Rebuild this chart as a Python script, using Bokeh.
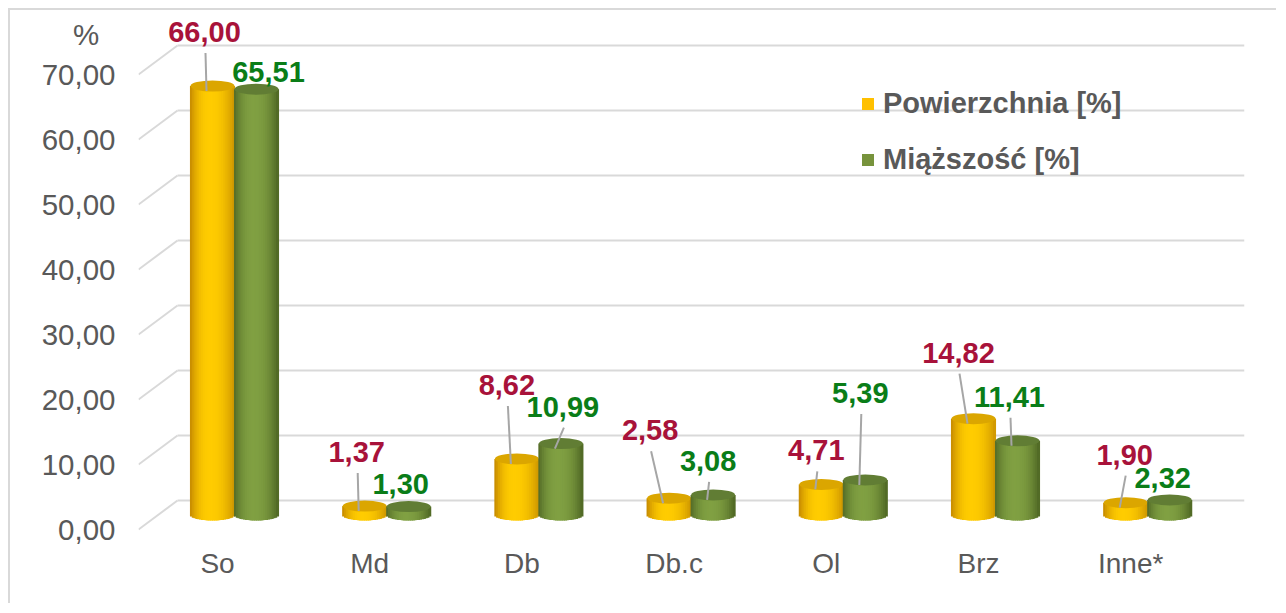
import numpy as np
from bokeh.plotting import figure
from bokeh.models import ColumnDataSource, FixedTicker, Legend, LegendItem
from bokeh.embed import file_html
from bokeh.resources import INLINE
from bokeh.core.properties import value

# ---------------- data ----------------
categories = ["So", "Md", "Db", "Db.c", "Ol", "Brz", "Inne*"]
powierzchnia = [66.00, 1.37, 8.62, 2.58, 4.71, 14.82, 1.90]
miazszosc = [65.51, 1.30, 10.99, 3.08, 5.39, 11.41, 2.32]
y_ticks = [0, 10, 20, 30, 40, 50, 60, 70]
series_names = ["Powierzchnia [%]", "Miąższość [%]"]
axis_unit = "%"

# ---------------- layout (label offsets in px, relative to cylinder top) ----------------
pow_label_dx = [-8, -8, -10, -19, -5, -15, -1]
pow_label_dy = [54, 54, 74, 68, 34, 66, 48]
pow_leader = [1, 1, 1, 1, 1, 1, 1]
mia_label_dx = [12, -8, 2, -5, -5, -8, -7]
mia_label_dy = [17, 23, 37, 34, 87, 44, 22]
mia_leader = [0, 0, 1, 1, 1, 1, 0]

FONT = "Liberation Sans"
GREY_TXT = "#595959"
GRID = "#d9d9d9"
RED_LBL = "#a8123a"
GREEN_LBL = "#0a7d18"

PX_X = 152.2   # px per category
PX_Y = 6.5     # px per percent
FRAME_W, FRAME_H = 1106, 533
x_start = -79 / PX_X
x_end = x_start + FRAME_W / PX_X
y_start = -16 / PX_Y
y_end = y_start + FRAME_H / PX_Y
UNIT_POS = (529 - 34) / PX_Y

WALL_DX = 39 / PX_X
WALL_DY = 29 / PX_Y
PAIR_DX = 17 / PX_X
BASE = 14.5 / PX_Y
HALF = 22 / PX_X
CW = 44 / PX_X
HB = 5.5 / PX_Y

p = figure(width=1268, height=595, output_backend="svg", toolbar_location=None,
           x_range=(x_start, x_end), y_range=(y_start, y_end),
           min_border_left=128, min_border_right=34, min_border_top=2, min_border_bottom=60)
p.margin = (8, 0, 0, 8)
p.styles = {"border-left": "2px solid #d9d9d9", "border-top": "2px solid #d9d9d9"}
p.outline_line_color = None
p.xgrid.visible = False
p.ygrid.visible = False
p.background_fill_color = "white"

# ---------------- 3D walls / gridlines ----------------
yt = np.array(y_ticks, dtype=float)
p.segment(x0=[x_start + WALL_DX] * len(yt), y0=yt + WALL_DY, x1=[x_end] * len(yt), y1=yt + WALL_DY,
          line_color=GRID, line_width=2)
p.segment(x0=[x_start] * len(yt), y0=yt, x1=[x_start + WALL_DX] * len(yt), y1=yt + WALL_DY,
          line_color=GRID, line_width=2)

# ---------------- cylinders ----------------
def hexc(c):
    return "#%02x%02x%02x" % tuple(int(round(max(0, min(255, v)))) for v in c)

def mix(a, b, t):
    return [a[i] + (b[i] - a[i]) * t for i in range(3)]

def shade(u, left, hi, right, u0=-0.1):
    if u < u0:
        d = (u0 - u) / (1 + u0)
        return hexc(mix(left, hi, 1 - d ** 2.2))
    d = (u - u0) / (1 - u0)
    return hexc(mix(right, hi, 1 - d ** 2.2))

styles = [
    dict(left=(196, 136, 0), hi=(255, 204, 0), right=(206, 150, 0), mid="#f2bc00", top="#dba600", legend="#ffc000"),
    dict(left=(82, 106, 38), hi=(128, 160, 66), right=(78, 102, 36), mid="#73913a", top="#617d34", legend="#77933c"),
]
series_vals = [powierzchnia, miazszosc]
series_side = [-1, 1]
N = 24
us = -1 + (2 * np.arange(N) + 1) / N

cx_all = []
top_all = []
for s, vals in enumerate(series_vals):
    st = styles[s]
    xs, bot, topv, cols = [], [], [], []
    cxs = [i + PAIR_DX + series_side[s] * HALF for i in range(len(vals))]
    tops = [BASE + v for v in vals]
    for cx, top in zip(cxs, tops):
        for u in us:
            xs.append(cx + u * CW / 2)
            bot.append(BASE - HB * np.sqrt(max(0.0, 1 - u * u)))
            topv.append(top)
            cols.append(shade(u, st["left"], st["hi"], st["right"]))
    # underlay (avoids seams between shading strips)
    p.vbar(x=cxs, bottom=[BASE] * len(cxs), top=tops, width=CW * 0.97, fill_color=st["mid"], line_color=None)
    p.ellipse(x=cxs, y=[BASE] * len(cxs), width=CW * 0.97, height=2 * HB * 0.95, fill_color=st["mid"], line_color=None)
    src = ColumnDataSource(dict(x=xs, bottom=bot, top=topv, color=cols))
    p.vbar(x="x", bottom="bottom", top="top", width=CW / N * 1.6, fill_color="color",
           line_color=None, source=src)
    p.ellipse(x=cxs, y=tops, width=CW, height=2 * HB, fill_color=st["top"], line_color=None)
    cx_all.append(cxs)
    top_all.append(tops)

# ---------------- data labels + leader lines ----------------
lbl_cfg = [(pow_label_dx, pow_label_dy, pow_leader, RED_LBL), (mia_label_dx, mia_label_dy, mia_leader, GREEN_LBL)]
for s, vals in enumerate(series_vals):
    dxs, dys, lead, col = lbl_cfg[s]
    n = len(vals)
    lx = [cx_all[s][i] + dxs[i] / PX_X for i in range(n)]
    ly = [top_all[s][i] + dys[i] / PX_Y for i in range(n)]
    sx0 = [lx[i] + 1 / PX_X for i in range(n) if lead[i]]
    sy0 = [ly[i] - 21 / PX_Y for i in range(n) if lead[i]]
    sx1 = [cx_all[s][i] - 6 / PX_X for i in range(n) if lead[i]]
    sy1 = [top_all[s][i] - 5 / PX_Y for i in range(n) if lead[i]]
    p.segment(x0=sx0, y0=sy0, x1=sx1, y1=sy1, line_color="#a6a6a6", line_width=2)
    texts = [f"{v:.2f}".replace(".", ",") for v in vals]
    p.text(x=lx, y=ly, text=texts, text_align="center", text_baseline="middle",
           text_font=value(FONT), text_font_size="29px", text_font_style="bold", text_color=col)

# ---------------- axes ----------------
p.yaxis.ticker = FixedTicker(ticks=y_ticks + [UNIT_POS])
overrides = {t: f"{t:.2f}".replace(".", ",") for t in y_ticks}
overrides[UNIT_POS] = axis_unit + "\u00a0\u00a0"
p.yaxis.major_label_overrides = overrides
p.xaxis.ticker = FixedTicker(ticks=list(range(len(categories))))
p.xaxis.major_label_overrides = {i: c for i, c in enumerate(categories)}
for ax in (p.xaxis, p.yaxis):
    ax.axis_line_color = None
    ax.major_tick_line_color = None
    ax.minor_tick_line_color = None
    ax.major_tick_out = 0
    ax.major_tick_in = 0
    ax.major_label_text_font = FONT
    ax.major_label_text_color = GREY_TXT
p.yaxis.major_label_text_font_size = "29.5px"
p.xaxis.major_label_text_font_size = "28px"
p.yaxis.major_label_standoff = 23
p.xaxis.major_label_standoff = 2

# ---------------- legend ----------------
items = []
for s in range(2):
    r = p.quad(left=[np.nan], right=[np.nan], bottom=[np.nan], top=[np.nan],
               fill_color=styles[s]["legend"], line_color=None)
    items.append(LegendItem(label=series_names[s], renderers=[r]))
legend = Legend(items=items, location=(722, 369), padding=0, margin=0, spacing=23,
                glyph_width=15, glyph_height=15, label_height=32, label_standoff=8,
                label_text_font=FONT, label_text_font_size="29px", label_text_font_style="bold",
                label_text_color=GREY_TXT, border_line_color=None, background_fill_alpha=0)
p.add_layout(legend)

open("out.html", "w").write(file_html(p, INLINE))
